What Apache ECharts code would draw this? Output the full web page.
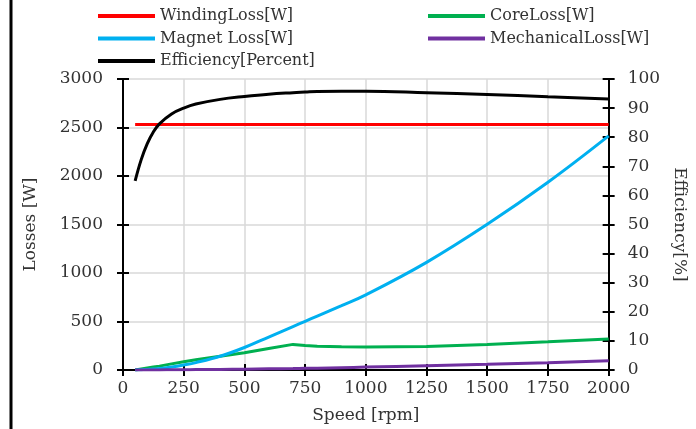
<!DOCTYPE html>
<html>
<head>
<meta charset="utf-8">
<script src="https://cdn.jsdelivr.net/npm/echarts@6/dist/echarts.min.js"></script>
<style>html,body{margin:0;padding:0;background:#fff}#c{width:696px;height:429px}</style>
</head>
<body>
<div id="c"></div>
<script>
var speeds        = [50, 75, 100, 125, 150, 200, 250, 300, 400, 500, 600, 700, 750, 800, 900, 1000, 1250, 1500, 1750, 2000];
var windingLoss   = [2530, 2530, 2530, 2530, 2530, 2530, 2530, 2530, 2530, 2530, 2530, 2530, 2530, 2530, 2530, 2530, 2530, 2530, 2530, 2530];
var coreLoss      = [0, 10, 20, 30, 40, 63, 86, 105, 142, 178, 222, 264, 252, 245, 240, 238, 243, 262, 290, 320];
var magnetLoss    = [0, 3, 6, 10, 15, 30, 51, 76, 142, 232, 340, 448, 502, 556, 664, 775, 1110, 1502, 1935, 2413];
var mechLoss      = [0, 0, 1, 1, 1, 2, 3, 4, 6, 9, 12, 15, 17, 19, 24, 30, 44, 58, 75, 95];
var efficiency    = [65, 72.3, 77.8, 81.8, 84.6, 88, 90, 91.4, 93, 94, 94.8, 95.3, 95.5, 95.7, 95.8, 95.8, 95.3, 94.7, 93.9, 93.1];
var xTicks = {min: 0, max: 2000, interval: 250};
var leftTicks = {min: 0, max: 3000, interval: 500};
var rightTicks = {min: 0, max: 100, interval: 10};

function pairs(xs, ys){ return xs.map(function(x,i){ return [x, ys[i]]; }); }

var FONT = 'DejaVu Serif';
var TXT = '#333';
var chart = echarts.init(document.getElementById('c'), null, {renderer: 'canvas'});
var plain = function(v){ return String(v); };

function baseAxisStyle(){ return {
  axisLine: {show: true, onZero: false, lineStyle: {color: '#000', width: 2}},
  axisTick: {show: true, inside: false, length: 6, lineStyle: {color: '#000', width: 2}},
  axisLabel: {show: true, color: TXT, fontFamily: FONT, fontSize: 17, formatter: plain},
  splitLine: {show: false}
};}
function innerAxis(pos, t){
  return {type: 'value', position: pos, min: t.min, max: t.max, interval: t.interval,
    axisLine: {show: true, onZero: false, lineStyle: {color: '#000', width: 2}},
    axisTick: {show: true, inside: true, length: 6, lineStyle: {color: '#000', width: 2}},
    axisLabel: {show: false}, splitLine: {show: false}};
}

var xMain = Object.assign(baseAxisStyle(), {
  type: 'value', position: 'bottom', min: xTicks.min, max: xTicks.max, interval: xTicks.interval,
  name: 'Speed [rpm]', nameLocation: 'middle', nameGap: 37,
  nameTextStyle: {color: TXT, fontFamily: FONT, fontSize: 17},
  splitLine: {show: true, lineStyle: {color: '#d9d9d9', width: 1.5}}
});
xMain.axisLabel.margin = 10;

var yLeft = Object.assign(baseAxisStyle(), {
  type: 'value', position: 'left', min: leftTicks.min, max: leftTicks.max, interval: leftTicks.interval,
  name: 'Losses [W]', nameLocation: 'middle', nameGap: 84,
  nameTextStyle: {color: TXT, fontFamily: FONT, fontSize: 17},
  splitLine: {show: true, lineStyle: {color: '#d9d9d9', width: 1.5}}
});
yLeft.axisLabel.margin = 20;
var yRight = Object.assign(baseAxisStyle(), {
  type: 'value', position: 'right', min: rightTicks.min, max: rightTicks.max, interval: rightTicks.interval,
  name: 'Efficiency[%]', nameLocation: 'middle', nameGap: 52, nameRotate: -90,
  nameTextStyle: {color: TXT, fontFamily: FONT, fontSize: 17}
});
yRight.axisLabel.margin = 19;

function lineSeries(name, ys, color, yIdx, smooth){
  return {name: name, type: 'line', xAxisIndex: 0, yAxisIndex: yIdx, data: pairs(speeds, ys),
    showSymbol: false, symbol: 'none', smooth: smooth, lineStyle: {color: color, width: 3}, itemStyle: {color: color}};
}

var legendCommon = {orient: 'vertical', icon: 'rect', itemWidth: 57, itemHeight: 4, itemGap: 6.5,
  textStyle: {color: TXT, fontFamily: FONT, fontSize: 16}, selectedMode: false};

chart.setOption({
  animation: false,
  backgroundColor: '#fff',
  grid: {left: 123, right: 76, top: 79, bottom: 57, containLabel: false},
  legend: [
    Object.assign({left: 93, top: 3, data: ['WindingLoss[W]', 'Magnet Loss[W]', 'Efficiency[Percent]']}, legendCommon),
    Object.assign({left: 423, top: 3, data: ['CoreLoss[W]', 'MechanicalLoss[W]']}, legendCommon)
  ],
  xAxis: [xMain, innerAxis('bottom', xTicks)],
  yAxis: [yLeft, yRight, innerAxis('left', leftTicks), innerAxis('right', rightTicks)],
  graphic: [{type: 'line', shape: {x1: 11, y1: 0, x2: 11, y2: 429}, style: {stroke: '#000', lineWidth: 3}}],
  series: [
    lineSeries('WindingLoss[W]', windingLoss, '#ff0000', 0, false),
    lineSeries('CoreLoss[W]', coreLoss, '#00b050', 0, false),
    lineSeries('Magnet Loss[W]', magnetLoss, '#00b0f0', 0, 0.4),
    lineSeries('MechanicalLoss[W]', mechLoss, '#7030a0', 0, true),
    lineSeries('Efficiency[Percent]', efficiency, '#000000', 1, 0.4)
  ]
});
</script>
</body>
</html>
